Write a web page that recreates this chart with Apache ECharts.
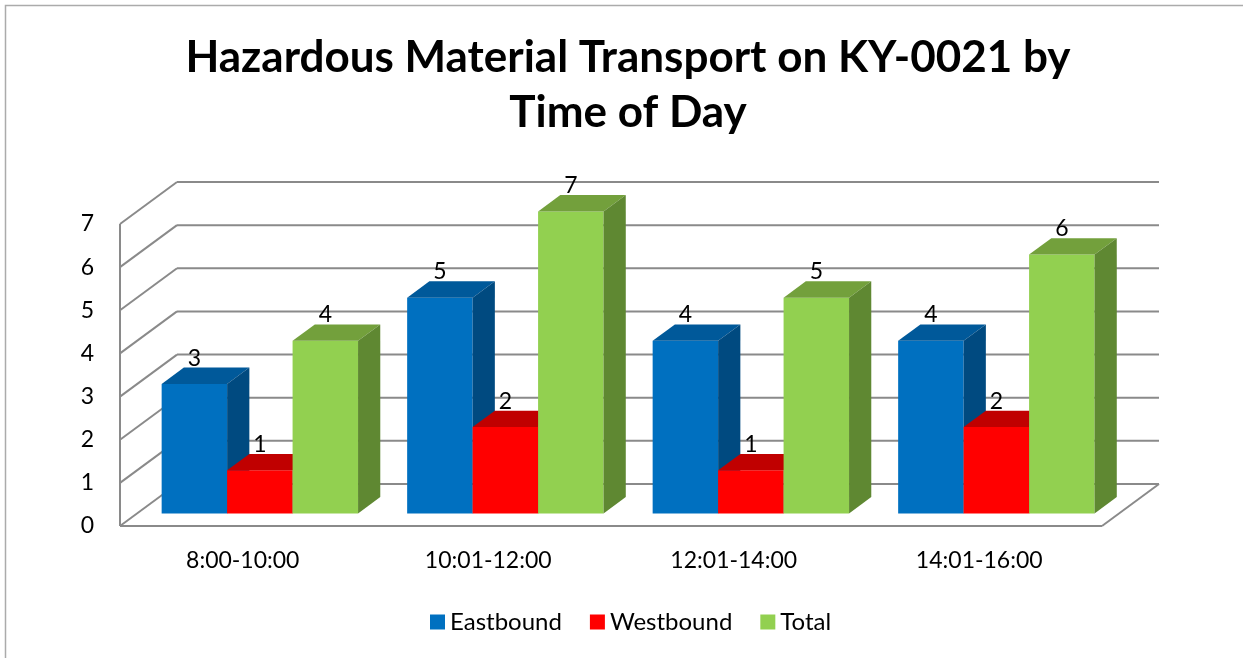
<!DOCTYPE html>
<html>
<head>
<meta charset="utf-8">
<script src="https://cdn.jsdelivr.net/npm/echarts@6/dist/echarts.min.js"></script>
<style>
html, body { margin: 0; padding: 0; background: #fff; }
#main { width: 1243px; height: 658px; }
</style>
</head>
<body>
<div id="main"></div>
<script>
const categories = ['8:00-10:00', '10:01-12:00', '12:01-14:00', '14:01-16:00']
const eastbound = [3, 5, 4, 4]
const westbound = [1, 2, 1, 2]
const total = [4, 7, 5, 6]
const yTicks = [0, 1, 2, 3, 4, 5, 6, 7]

// oblique offset of the full floor depth, px
const DEPTH_X = 57, DEPTH_Y = -42
// bars sit between these fractions of the depth
const BAR_FRONT = 0.3, BAR_BACK = 0.69
const FONT = 'Lato, "Open Sans", sans-serif'

const faces = {
    Eastbound: { front: '#0070c0', top: '#00599a', side: '#004a80' },
    Westbound: { front: '#ff0000', top: '#c00000', side: '#a00000' },
    Total: { front: '#92d050', top: '#73a03c', side: '#5f8832' },
}
const seriesData = [['Eastbound', eastbound], ['Westbound', westbound], ['Total', total]]

function wallRenderer(params, api) {
    const band = api.size([1, 0])[0]
    const left = api.coord([0, 0])[0] - band / 2
    const right = api.coord([categories.length - 1, 0])[0] + band / 2
    const children = []
    const line = (x1, y1, x2, y2) => children.push({
        type: 'line',
        shape: { x1, y1, x2, y2 },
        style: { stroke: '#8a8a8a', lineWidth: 2 },
    })
    for (let t of yTicks) {
        const y = api.coord([0, t])[1]
        line(left, y, left + DEPTH_X, y + DEPTH_Y)
        line(left + DEPTH_X, y + DEPTH_Y, right + DEPTH_X, y + DEPTH_Y)
    }
    const y0 = api.coord([0, 0])[1]
    const yMax = api.coord([0, yTicks[yTicks.length - 1]])[1]
    line(left, y0, left, yMax)
    line(left, y0, right, y0)
    line(right, y0, right + DEPTH_X, y0 + DEPTH_Y)
    return { type: 'group', children }
}

function barRenderer(slot, c) {
    return (params, api) => {
        const cat = api.value(0), val = api.value(1)
        const band = api.size([1, 0])[0]
        const base = api.coord([cat, 0]), top = api.coord([cat, val])
        const w = band * 0.8 / 3
        const x0 = base[0] - band * 0.4 + slot * w + BAR_FRONT * DEPTH_X
        const x1 = x0 + w
        const yb = base[1] + BAR_FRONT * DEPTH_Y
        const yt = top[1] + BAR_FRONT * DEPTH_Y
        const dx = (BAR_BACK - BAR_FRONT) * DEPTH_X
        const dy = (BAR_BACK - BAR_FRONT) * DEPTH_Y
        return {
            type: 'group',
            children: [
                { type: 'rect', shape: { x: x0, y: yt, width: w, height: yb - yt }, style: { fill: c.front } },
                { type: 'polygon', shape: { points: [[x0, yt], [x1, yt], [x1 + dx, yt + dy], [x0 + dx, yt + dy]] }, style: { fill: c.top } },
                { type: 'polygon', shape: { points: [[x1, yt], [x1 + dx, yt + dy], [x1 + dx, yb + dy], [x1, yb]] }, style: { fill: c.side } },
                {
                    type: 'text',
                    style: {
                        text: String(val), x: (x0 + x1) / 2, y: yt + dy + 2,
                        align: 'center', verticalAlign: 'bottom',
                        font: '23px ' + FONT, fill: '#000',
                    },
                },
            ],
        }
    }
}

let series = [{
    type: 'custom',
    name: 'walls',
    silent: true,
    clip: false,
    z: 1,
    renderItem: wallRenderer,
    data: [[0, 0]],
}]
seriesData.forEach(([name, values], i) => series.push({
    type: 'custom',
    name: name,
    clip: false,
    z: 2,
    itemStyle: { color: faces[name].front },
    renderItem: barRenderer(i, faces[name]),
    data: values.map((v, k) => [k, v]),
}))

echarts.init(document.getElementById('main')).setOption({
    animation: false,
    title: {
        text: 'Hazardous Material Transport on KY-0021 by\nTime of Day',
        left: 628,
        top: 30,
        padding: 0,
        textAlign: 'center',
        textStyle: { fontFamily: FONT, fontWeight: 'bold', fontSize: 44, lineHeight: 55, color: '#000' },
    },
    legend: {
        data: ['Eastbound', 'Westbound', 'Total'],
        left: 425,
        top: 605,
        icon: 'rect',
        itemWidth: 15,
        itemHeight: 15,
        itemGap: 28,
        textStyle: { fontFamily: FONT, fontSize: 24, color: '#000' },
    },
    grid: { left: 120, right: 141, top: 224, bottom: 132 },
    xAxis: {
        type: 'category',
        data: categories,
        axisLine: { show: false },
        axisTick: { show: false },
        axisLabel: { margin: 23, fontFamily: FONT, fontSize: 23, color: '#000' },
    },
    yAxis: {
        type: 'value',
        min: 0,
        max: 7,
        interval: 1,
        splitLine: { show: false },
        axisLabel: { margin: 26, fontFamily: FONT, fontSize: 23, color: '#000' },
    },
    graphic: [{
        type: 'rect',
        silent: true,
        shape: { x: 5.5, y: 5.5, width: 1300, height: 700 },
        style: { fill: 'none', stroke: '#ababab', lineWidth: 1.5 },
    }],
    series: series,
})
</script>
</body>
</html>
